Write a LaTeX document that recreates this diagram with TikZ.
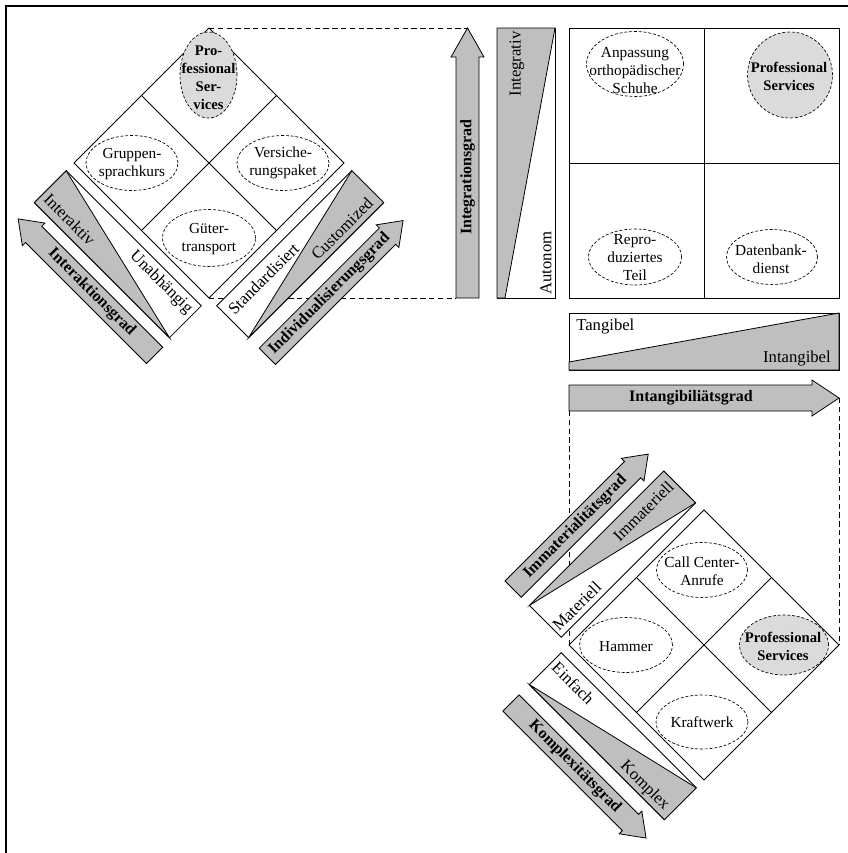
\documentclass[tikz,border=0pt]{standalone}
\usepackage{fontspec}
\setmainfont{Liberation Serif}

\definecolor{bargray}{gray}{0.75}
\definecolor{servgray}{gray}{0.86}

\tikzset{
  frame/.style={line width=0.6pt},
  blank/.style={fill=white, draw, line width=0.6pt},
  bar/.style={draw, line width=0.6pt, fill=bargray},
  wedge/.style={draw, line width=0.6pt, fill=bargray},
  example/.style={draw, line width=0.5pt, dash pattern=on 2.2pt off 1.4pt},
  service/.style={example, fill=servgray},
  link/.style={line width=0.6pt, dash pattern=on 4pt off 2.6pt},
  exlabel/.style={inner sep=0pt, align=center, font=\fontsize{11.5}{13.5}\selectfont},
  svlabel/.style={inner sep=0pt, align=center, font=\fontsize{11}{13.5}\selectfont\bfseries},
  polelabel/.style={inner sep=0pt, font=\fontsize{12.5}{14}\selectfont},
  gradlabel/.style={inner sep=0pt, font=\fontsize{12}{14}\selectfont\bfseries},
}

\begin{document}
\begin{tikzpicture}[x=0.75pt, y=0.75pt]

\useasboundingbox (0,0) rectangle (847,-853);

% Frame, only top and left edge
\draw [line width=1.7pt] (850,-6.2) -- (6.2,-6.2) -- (6.2,-856);

% Corner points that the dashed links join
\coordinate (dT) at (209,-28);
\coordinate (dB) at (209,-298);
\coordinate (dL) at (74,-163);
\coordinate (dR) at (344,-163);
\coordinate (eT) at (704,-510);
\coordinate (eB) at (704,-780);
\coordinate (eL) at (569,-645);
\coordinate (eR) at (839,-645);
\coordinate (integTip) at (467.5,-28);
\coordinate (integTail) at (456,-298);
\coordinate (intanTail) at (569,-411);
\coordinate (intanTip) at (839,-398);

% Dashed links (drawn first, strips lie on top)
\draw [link] (dT) -- (integTip);
\draw [link] (dB) -- (integTail);
\draw [link] (intanTail) -- (eL);
\draw [link] (intanTip) -- (eR);

% ---------- left diamond ----------
\draw [frame] (dT) -- (dR) -- (dB) -- (dL) -- cycle;
\draw [frame] (141.5,-95.5) -- (276.5,-230.5);
\draw [frame] (276.5,-95.5) -- (141.5,-230.5);

\draw [service] (208.5,-75) ellipse (28.5 and 43);
\node [svlabel] (profA) at (208.5,-78) {Pro-\\fessional\\Ser-\\vices};
\draw [example] (132,-163) ellipse (46 and 27.5);
\node [exlabel] (gruppen) at (132,-164) {Gruppen-\\sprachkurs};
\draw [example] (283,-163) ellipse (46 and 27.5);
\node [exlabel] (versich) at (283,-163) {Versiche-\\rungspaket};
\draw [example] (209,-238) ellipse (46.5 and 28.5);
\node [exlabel] (gueter) at (209,-239) {Güter-\\transport};

% Interaktionsgrad
\begin{scope} [shift={(dL)}, rotate=-45]
\draw [blank] (0,-11) -- (191,-11) -- (191,-56) -- (0,-56) -- cycle;
\draw [wedge] (0,-56) -- (0,-11) -- (191,-56) -- cycle;
\node [polelabel, rotate=-45] (interaktiv) at (37,-43) {Interaktiv};
\node [polelabel, rotate=-45] (unabh) at (146,-23) {Unabhängig};
\draw [bar] (193,-90.5) -- (22,-90.5) -- (22,-95) -- (0,-79) -- (22,-63) -- (22,-67.5) -- (193,-67.5) -- cycle;
\node [gradlabel, rotate=-45] (interaktion) at (104,-79) {Interaktionsgrad};
\end{scope}

% Individualisierungsgrad
\begin{scope} [shift={(dB)}, rotate=45]
\draw [blank] (0,-11) -- (191,-11) -- (191,-56) -- (0,-56) -- cycle;
\draw [wedge] (0,-56) -- (191,-11) -- (191,-56) -- cycle;
\node [polelabel, rotate=45] (standard) at (52,-25) {Standardisiert};
\node [polelabel, rotate=45] (custom) at (143,-45) {Customized};
\draw [bar] (0,-94) -- (170,-94) -- (170,-98.5) -- (192,-82.5) -- (170,-66.5) -- (170,-71) -- (0,-71) -- cycle;
\node [gradlabel, rotate=45] (individual) at (88,-82.5) {Individualisierungsgrad};
\end{scope}

% ---------- Integrationsgrad ----------
\draw [bar] (456,-298) -- (456,-57) -- (451,-57) -- (integTip) -- (484,-57) -- (479,-57) -- (479,-298) -- cycle;
\node [gradlabel, rotate=90] (integration) at (467.5,-177) {Integrationsgrad};

\draw [blank] (497,-28) rectangle (555,-298);
\draw [wedge] (497,-28) -- (555,-28) -- (505,-298) -- (497,-298) -- cycle;
\node [polelabel, rotate=90] (integrativ) at (517,-64) {Integrativ};
\node [polelabel, rotate=90] (autonom) at (546,-263) {Autonom};

% ---------- matrix ----------
\draw [frame] (569,-28) rectangle (839,-298);
\draw [frame] (704,-28) -- (704,-298);
\draw [frame] (569,-163) -- (839,-163);

\draw [example] (635,-64) ellipse (48.5 and 32.5);
\node [exlabel] (anpassung) at (635,-71) {Anpassung\\orthopädischer\\Schuhe};
\draw [service] (790,-75) ellipse (42.5 and 43);
\node [svlabel] (profB) at (789,-76) {Professional\\Services};
\draw [example] (635,-257) ellipse (46.5 and 28);
\node [exlabel] (repro) at (635,-258) {Repro-\\duziertes\\Teil};
\draw [example] (772,-257) ellipse (45.5 and 27.5);
\node [exlabel] (datenbank) at (771,-259) {Datenbank-\\dienst};

% ---------- Intangibiliaetsgrad ----------
\draw [blank] (569,-313) rectangle (839,-370);
\draw [wedge] (569,-362) -- (839,-313) -- (839,-370) -- (569,-370) -- cycle;
\node [polelabel, anchor=west] (tangibel) at (576,-327) {Tangibel};
\node [polelabel, anchor=east] (intangibel) at (831,-359) {Intangibel};

\draw [bar] (intanTail) -- (569,-385) -- (812,-385) -- (812,-380) -- (intanTip) -- (812,-416) -- (812,-411) -- cycle;
\node [gradlabel] (intangib) at (691,-398) {Intangibiliätsgrad};

% ---------- bottom diamond ----------
\draw [fill=white, frame] (eT) -- (eR) -- (eB) -- (eL) -- cycle;
\draw [frame] (636.5,-577.5) -- (771.5,-712.5);
\draw [frame] (771.5,-577.5) -- (636.5,-712.5);

\draw [example] (702,-570) ellipse (45.5 and 27.5);
\node [exlabel] (callcenter) at (702,-571) {Call Center-\\Anrufe};
\draw [example] (626,-645) ellipse (46.5 and 27.5);
\node [exlabel] (hammer) at (626,-647) {Hammer};
\draw [service] (784,-645) ellipse (44.5 and 30);
\node [svlabel] (profC) at (783,-646) {Professional\\Services};
\draw [example] (702,-722) ellipse (46 and 27);
\node [exlabel] (kraftwerk) at (702,-722) {Kraftwerk};

% Immaterialitaetsgrad
\begin{scope} [shift={(eL)}, rotate=45]
\draw [blank] (0,11) -- (190,11) -- (190,56) -- (0,56) -- cycle;
\draw [wedge] (0,56) -- (190,11) -- (190,56) -- cycle;
\node [polelabel, rotate=45] (materiell) at (33,22) {Materiell};
\node [polelabel, rotate=45] (immateriell) at (147,42) {Immateriell};
\draw [bar] (0,67.5) -- (169,67.5) -- (169,63) -- (191,79) -- (169,95) -- (169,90.5) -- (0,90.5) -- cycle;
\node [gradlabel, rotate=45] (immaterial) at (88,79) {Immaterialitätsgrad};
\end{scope}

% Komplexitaetsgrad
\begin{scope} [shift={(eL)}, rotate=-45]
\draw [blank] (0,-11) -- (191,-11) -- (191,-56) -- (0,-56) -- cycle;
\draw [wedge] (0,-56) -- (191,-11) -- (191,-56) -- cycle;
\node [polelabel, rotate=-45] (einfach) at (30,-24) {Einfach};
\node [polelabel, rotate=-45] (komplex) at (153,-46) {Komplex};
\draw [bar] (0,-70.5) -- (169,-70.5) -- (169,-66) -- (191,-82) -- (169,-98) -- (169,-93.5) -- (0,-93.5) -- cycle;
\node [gradlabel, rotate=-45] (komplexitaet) at (90,-82) {Komplexitätsgrad};
\end{scope}

\end{tikzpicture}
\end{document}
